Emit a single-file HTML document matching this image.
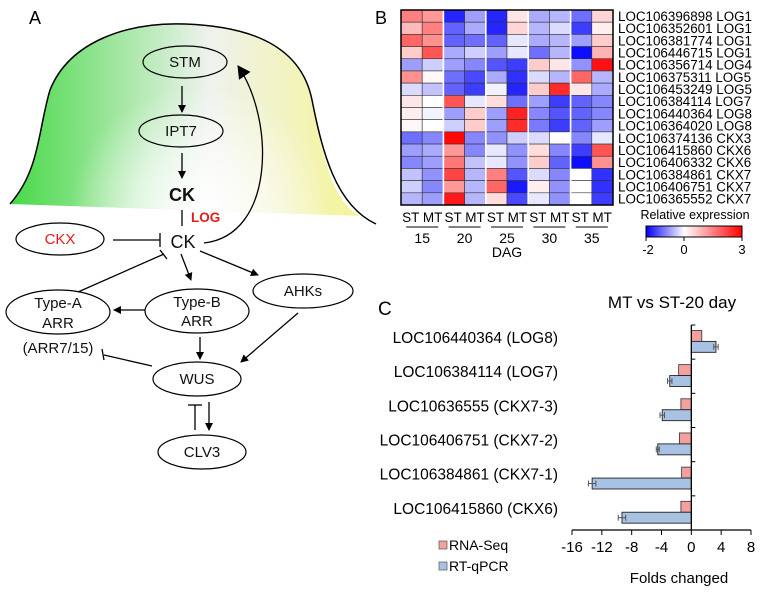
<!DOCTYPE html>
<html><head><meta charset="utf-8"><style>
body{margin:0;background:#fff}
svg{display:block;font-family:"Liberation Sans",Arial,sans-serif}
</style></head><body>
<svg width="765" height="593" viewBox="0 0 765 593">
<defs>
<linearGradient id="gdome" x1="0" y1="0" x2="1" y2="0">
<stop offset="0" stop-color="#3fd83f"/><stop offset="0.55" stop-color="#eef2ee"/><stop offset="1" stop-color="#f7f58a"/>
</linearGradient>
<radialGradient id="gglow" cx="200" cy="215" r="130" gradientUnits="userSpaceOnUse">
<stop offset="0" stop-color="#fff" stop-opacity="1"/><stop offset="0.5" stop-color="#fff" stop-opacity="0.6"/><stop offset="1" stop-color="#fff" stop-opacity="0"/>
</radialGradient>
<linearGradient id="gcbar" x1="0" y1="0" x2="1" y2="0">
<stop offset="0" stop-color="#0000ff"/><stop offset="0.4" stop-color="#fff"/><stop offset="1" stop-color="#ff0000"/>
</linearGradient>
<marker id="ah" markerWidth="8" markerHeight="8" refX="7" refY="4" orient="auto" markerUnits="userSpaceOnUse"><path d="M0,0 L8,4 L0,8 z" fill="#000"/></marker>
<marker id="ahb" markerWidth="14" markerHeight="14" refX="12" refY="7" orient="auto" markerUnits="userSpaceOnUse"><path d="M0,0 L13,7 L0,14 z" fill="#000"/></marker>
<clipPath id="domeclip"><path d="M10,204 C40,170 38,130 50,90 C70,40 130,22 185,24 C240,26 300,40 312,100 C322,150 330,200 360,216 L10,204 Z"/></clipPath>
</defs>

<!-- Panel A -->
<text x="29" y="24" font-size="18">A</text>
<g clip-path="url(#domeclip)">
<rect x="0" y="0" width="380" height="230" fill="url(#gdome)"/>
<rect x="0" y="0" width="380" height="230" fill="url(#gglow)"/>
</g>
<path d="M10,204 C40,170 38,130 50,90 C70,40 130,22 185,24 C240,26 300,40 312,100 C322,150 335,205 376,224" fill="none" stroke="#000" stroke-width="1.5"/>

<g fill="none" stroke="#000" stroke-width="1.2">
<ellipse cx="185" cy="62" rx="42" ry="16"/>
<ellipse cx="181" cy="131" rx="42" ry="16"/>
<ellipse cx="60" cy="239" rx="44" ry="16" fill="#fff"/>
<ellipse cx="303" cy="291" rx="50" ry="17"/>
<ellipse cx="58" cy="312" rx="52" ry="22"/>
<ellipse cx="197" cy="311" rx="52" ry="22"/>
<ellipse cx="197" cy="379" rx="44" ry="17"/>
<ellipse cx="202" cy="452" rx="44" ry="17"/>
</g>
<g font-size="15" text-anchor="middle" fill="#111">
<text x="185" y="67">STM</text>
<text x="181" y="136">IPT7</text>
<text x="182" y="201" font-size="18" font-weight="bold">CK</text>
<text x="191" y="222" font-size="13.5" font-weight="bold" fill="#e31c1c" text-anchor="start">LOG</text>
<text x="183" y="248" font-size="18">CK</text>
<text x="60" y="244" fill="#e31c1c">CKX</text>
<text x="303" y="296">AHKs</text>
<text x="58" y="308">Type-A</text>
<text x="58" y="328">ARR</text>
<text x="197" y="307">Type-B</text>
<text x="197" y="326">ARR</text>
<text x="58" y="353">(ARR7/15)</text>
<text x="197" y="384">WUS</text>
<text x="202" y="457">CLV3</text>
</g>
<g stroke="#000" stroke-width="1.3" fill="none">
<line x1="182" y1="86" x2="182" y2="112" marker-end="url(#ah)"/>
<line x1="182" y1="153" x2="182" y2="178" marker-end="url(#ah)"/>
<line x1="182" y1="210" x2="182" y2="226"/>
<line x1="113" y1="240" x2="160" y2="240"/><line x1="160" y1="233" x2="160" y2="247"/>
<path d="M204,243 C275,235 275,120 238,66" marker-end="url(#ahb)"/>
<line x1="181" y1="254" x2="191" y2="280" marker-end="url(#ah)"/>
<line x1="200" y1="251" x2="258" y2="275" marker-end="url(#ah)"/>
<line x1="78" y1="292" x2="164" y2="254"/><line x1="160" y1="250" x2="167" y2="259"/>
<line x1="145" y1="310" x2="114" y2="310" marker-end="url(#ah)"/>
<line x1="200" y1="337" x2="200" y2="359" marker-end="url(#ah)"/>
<line x1="298" y1="313" x2="241" y2="362" marker-end="url(#ah)"/>
<line x1="152" y1="366" x2="104" y2="355"/><line x1="102" y1="349" x2="104" y2="360"/>
<line x1="195" y1="405" x2="195" y2="430"/><line x1="188" y1="405" x2="202" y2="405"/>
<line x1="209" y1="402" x2="209" y2="430" marker-end="url(#ah)"/>
</g>

<!-- Panel B heatmap -->
<text x="375" y="24" font-size="18">B</text>
<g id="heat"></g>
<text x="695" y="219" font-size="12.5" text-anchor="middle">Relative expression</text>
<rect x="646" y="226" width="96" height="11" fill="url(#gcbar)" stroke="#000" stroke-width="1"/>
<g stroke="#000"><line x1="646" y1="237" x2="646" y2="241"/><line x1="684" y1="237" x2="684" y2="241"/><line x1="742" y1="237" x2="742" y2="241"/></g>
<g font-size="13" text-anchor="middle"><text x="648" y="254">-2</text><text x="684" y="254">0</text><text x="742" y="254">3</text></g>

<!-- Panel C -->
<text x="378" y="315" font-size="19">C</text>
<text x="672" y="308" font-size="17" text-anchor="middle">MT vs ST-20 day</text>
<g id="bars"></g>
<text x="679" y="583" font-size="15" text-anchor="middle">Folds changed</text>
<rect x="439" y="541" width="8" height="8" fill="#f4a09c" stroke="#555" stroke-width="0.7"/>
<text x="449" y="550" font-size="14">RNA-Seq</text>
<rect x="439" y="562" width="8" height="8" fill="#a8c2e4" stroke="#555" stroke-width="0.7"/>
<text x="449" y="571" font-size="14">RT-qPCR</text>
</svg>
<script>
const NS="http://www.w3.org/2000/svg";
function mk(tag,attrs,parent){const e=document.createElementNS(NS,tag);for(const k in attrs)e.setAttribute(k,attrs[k]);parent.appendChild(e);return e;}

// ---- Heatmap data ----
const geneLabels=["LOC106396898 LOG1","LOC106352601 LOG1","LOC106381774 LOG1","LOC106446715 LOG1","LOC106356714 LOG4","LOC106375311 LOG5","LOC106453249 LOG5","LOC106384114 LOG7","LOC106440364 LOG8","LOC106364020 LOG8","LOC106374136 CKX3","LOC106415860 CKX6","LOC106406332 CKX6","LOC106384861 CKX7","LOC106406751 CKX7","LOC106365552 CKX7"];
const dagLabels=["15","20","25","30","35"];
const heatValues=[
[1.5,1.2,-1.8,-0.8,-1.8,0.3,-0.7,-0.6,-1.2,0.5],
[0.8,1.5,-1.3,-0.7,-1.8,0.5,-0.6,-0.3,-1.6,0.2],
[1.8,1.3,-1.3,-1.2,-1.3,-0.2,-0.7,-0.6,-0.8,0.6],
[0.6,2.0,-0.7,-0.4,-0.8,-0.2,-1.2,-0.6,-2.0,0.9],
[-0.8,-0.4,-0.8,-1.0,-1.4,-1.6,0.6,0.3,-0.9,2.8],
[1.3,0.1,-1.2,-1.5,-0.7,-1.7,-0.3,-0.6,1.8,-0.6],
[-0.3,-0.5,-1.3,-1.6,-0.1,-1.8,0.6,2.5,0.3,-0.7],
[0.3,0.0,2.0,-0.2,0.4,-1.2,-0.8,-1.6,-1.3,-1.0],
[0.2,-0.1,-0.8,0.6,-0.8,2.6,-1.0,-1.4,-1.3,-1.0],
[0.1,0.0,-0.4,0.6,-0.8,2.5,-1.1,-1.6,-1.3,-0.8],
[-1.2,-1.0,2.9,-1.0,-0.9,-0.4,-0.3,0.0,-1.0,-0.2],
[-0.8,-0.7,1.2,-1.0,-0.2,-0.9,0.4,-1.0,-1.6,2.0],
[-1.0,-0.8,1.6,-0.5,-0.2,-0.9,0.6,-1.3,-2.0,1.3],
[-0.5,-0.9,2.2,-0.6,1.5,-1.4,-0.3,-1.0,0.0,-1.7],
[-0.4,-1.0,1.2,-0.6,1.8,-1.9,0.2,-0.9,0.0,-1.7],
[-0.6,-0.8,2.7,-0.6,0.4,-1.5,-0.2,-0.9,0.0,-1.6]];

function heatColor(v){
  let r,g,b;
  if(v<0){const t=Math.min(1,-v/2);r=g=Math.round(255*(1-t*0.95));b=255;}
  else{const t=Math.min(1,v/3);r=255;g=b=Math.round(255*(1-t));}
  return `rgb(${r},${g},${b})`;
}
const hx0=401,hy0=10,hW=212,hH=195;
const nRows=heatValues.length,nCols=heatValues[0].length;
const cw=hW/nCols,ch=hH/nRows;
const heat=document.getElementById('heat');
heatValues.forEach((row,i)=>{
  row.forEach((v,j)=>{
    const c=mk('rect',{x:hx0+j*cw,y:hy0+i*ch,width:cw,height:ch,fill:heatColor(v),stroke:'#333','stroke-width':0.6},heat);
    
    
  });
  const t=mk('text',{x:hx0+hW+5,y:hy0+i*ch+ch/2+4.8,'font-size':13.4},heat);
  t.textContent=geneLabels[i];
  
  
});
for(let g=1;g<dagLabels.length;g++){
  mk('line',{x1:hx0+g*2*cw,y1:hy0,x2:hx0+g*2*cw,y2:hy0+hH,stroke:'#fff','stroke-width':1.6},heat);
}
mk('rect',{x:hx0,y:hy0,width:hW,height:hH,fill:'none',stroke:'#000','stroke-width':1.5},heat);
dagLabels.forEach((d,g)=>{
  const cx=hx0+(g*2+1)*cw;
  const t1=mk('text',{x:cx,y:hy0+hH+17,'font-size':13.5,'text-anchor':'middle'},heat);
  t1.textContent="ST MT";
  
  
  mk('line',{x1:cx-16,y1:hy0+hH+22,x2:cx+16,y2:hy0+hH+22,stroke:'#000'},heat);
  const t2=mk('text',{x:cx,y:hy0+hH+38,'font-size':14,'text-anchor':'middle'},heat);
  t2.textContent=d;
  
  
});
const dag=mk('text',{x:hx0+hW/2,y:hy0+hH+52,'font-size':14,'text-anchor':'middle'},heat);
dag.textContent="DAG";



// ---- Bar chart data ----
const barCategories=["LOC106440364 (LOG8)","LOC106384114 (LOG7)","LOC10636555 (CKX7-3)","LOC106406751 (CKX7-2)","LOC106384861 (CKX7-1)","LOC106415860 (CKX6)"];
const rnaSeq=[1.4,-1.7,-1.4,-1.6,-1.3,-1.4];
const rtqpcr=[3.3,-2.9,-3.9,-4.5,-13.3,-9.3];
const rtqpcrErr=[0.3,0.3,0.3,0.2,0.5,0.5];
const xTicks=[-16,-12,-8,-4,0,4,8];

const bx0=572,bx1=751,xmin=-16,xmax=8,by0=325,by1=530;
const xs=v=>bx0+(v-xmin)/(xmax-xmin)*(bx1-bx0);
const band=(by1-by0)/barCategories.length;
const bars=document.getElementById('bars');
barCategories.forEach((c,i)=>{
  const top=by0+i*band;
  const bh=band*0.32;
  const y1=top+band*0.16, y2=y1+bh;
  const r=mk('rect',{x:Math.min(xs(0),xs(rnaSeq[i])),y:y1,width:Math.abs(xs(rnaSeq[i])-xs(0)),height:bh,fill:'#f4a09c',stroke:'#333','stroke-width':0.8},bars);
  
  
  const q=mk('rect',{x:Math.min(xs(0),xs(rtqpcr[i])),y:y2,width:Math.abs(xs(rtqpcr[i])-xs(0)),height:bh,fill:'#a8c2e4',stroke:'#222','stroke-width':0.9},bars);
  
  
  const ey=y2+bh/2, e=rtqpcrErr[i];
  mk('line',{x1:xs(rtqpcr[i]-e),y1:ey,x2:xs(rtqpcr[i]+e),y2:ey,stroke:'#555'},bars);
  mk('line',{x1:xs(rtqpcr[i]-e),y1:ey-3,x2:xs(rtqpcr[i]-e),y2:ey+3,stroke:'#555'},bars);
  mk('line',{x1:xs(rtqpcr[i]+e),y1:ey-3,x2:xs(rtqpcr[i]+e),y2:ey+3,stroke:'#555'},bars);
  mk('line',{x1:xs(0),y1:top,x2:xs(0)+4,y2:top,stroke:'#000'},bars);
  const t=mk('text',{x:558,y:top+band*0.38+5,'font-size':15.5,'text-anchor':'end'},bars);
  t.textContent=c;
  
  
});
mk('line',{x1:xs(0),y1:by0,x2:xs(0),y2:by1,stroke:'#000','stroke-width':1.3},bars);
mk('line',{x1:bx0,y1:by1,x2:bx1,y2:by1,stroke:'#000','stroke-width':1.3},bars);
xTicks.forEach(v=>{
  mk('line',{x1:xs(v),y1:by1,x2:xs(v),y2:by1+5,stroke:'#000'},bars);
  const t=mk('text',{x:xs(v),y:by1+22,'font-size':15,'text-anchor':'middle'},bars);
  t.textContent=v;
  
  
});
</script>
</body></html>
